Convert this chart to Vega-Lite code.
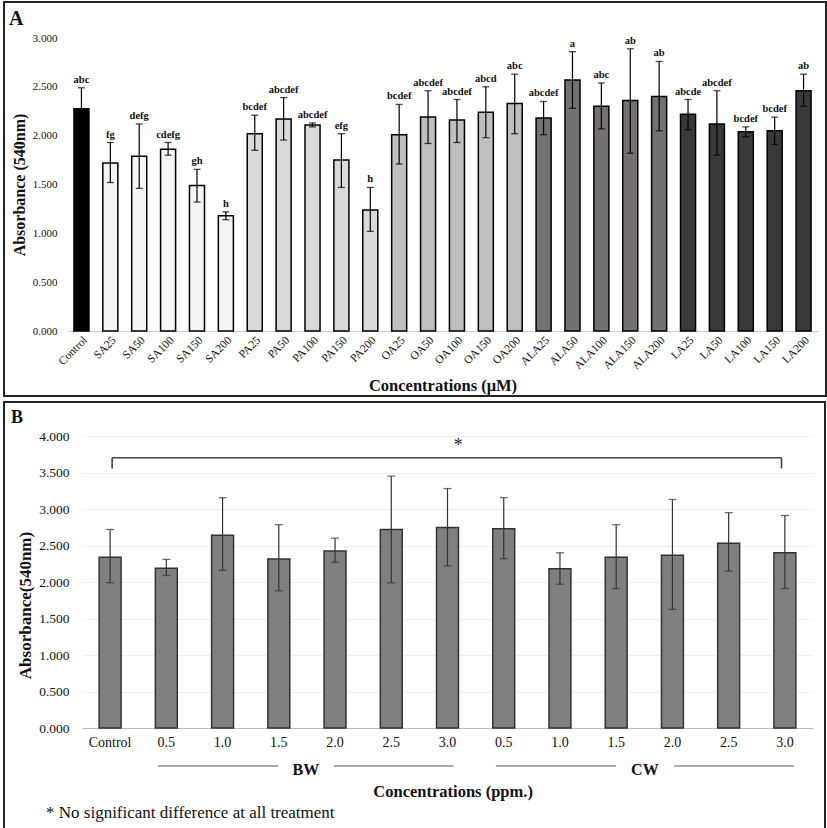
{
  "$schema": "https://vega.github.io/schema/vega-lite/v6.json",
  "padding": {"left": 3, "top": 1, "right": 2, "bottom": 1},
  "autosize": {"type": "pad"},
  "background": "white",
  "config": {
    "font": "Liberation Serif",
    "view": {"stroke": "#222222", "strokeWidth": 2},
    "concat": {"spacing": 4},
    "axis": {"labelFont": "Liberation Serif", "titleFont": "Liberation Serif", "labelColor": "#111111", "titleColor": "#111111"},
    "text": {"font": "Liberation Serif"},
    "title": {"font": "Liberation Serif", "color": "#111111"}
  },
  "datasets": {
    "panelA": [
      {"cat": "Control", "group": "Control", "mean": 2.275, "lo": 2.06, "hi": 2.49, "label": "abc"},
      {"cat": "SA25", "group": "SA", "mean": 1.72, "lo": 1.52, "hi": 1.93, "label": "fg"},
      {"cat": "SA50", "group": "SA", "mean": 1.79, "lo": 1.46, "hi": 2.12, "label": "defg"},
      {"cat": "SA100", "group": "SA", "mean": 1.86, "lo": 1.8, "hi": 1.93, "label": "cdefg"},
      {"cat": "SA150", "group": "SA", "mean": 1.49, "lo": 1.32, "hi": 1.655, "label": "gh"},
      {"cat": "SA200", "group": "SA", "mean": 1.18, "lo": 1.14, "hi": 1.22, "label": "h"},
      {"cat": "PA25", "group": "PA", "mean": 2.02, "lo": 1.85, "hi": 2.21, "label": "bcdef"},
      {"cat": "PA50", "group": "PA", "mean": 2.17, "lo": 1.955, "hi": 2.39, "label": "abcdef"},
      {"cat": "PA100", "group": "PA", "mean": 2.11, "lo": 2.09, "hi": 2.13, "label": "abcdef"},
      {"cat": "PA150", "group": "PA", "mean": 1.75, "lo": 1.47, "hi": 2.02, "label": "efg"},
      {"cat": "PA200", "group": "PA", "mean": 1.24, "lo": 1.02, "hi": 1.47, "label": "h"},
      {"cat": "OA25", "group": "OA", "mean": 2.01, "lo": 1.71, "hi": 2.32, "label": "bcdef"},
      {"cat": "OA50", "group": "OA", "mean": 2.19, "lo": 1.92, "hi": 2.46, "label": "abcdef"},
      {"cat": "OA100", "group": "OA", "mean": 2.16, "lo": 1.93, "hi": 2.37, "label": "abcdef"},
      {"cat": "OA150", "group": "OA", "mean": 2.24, "lo": 1.98, "hi": 2.5, "label": "abcd"},
      {"cat": "OA200", "group": "OA", "mean": 2.33, "lo": 2.02, "hi": 2.63, "label": "abc"},
      {"cat": "ALA25", "group": "ALA", "mean": 2.18, "lo": 2.01, "hi": 2.35, "label": "abcdef"},
      {"cat": "ALA50", "group": "ALA", "mean": 2.57, "lo": 2.28, "hi": 2.86, "label": "a"},
      {"cat": "ALA100", "group": "ALA", "mean": 2.3, "lo": 2.07, "hi": 2.54, "label": "abc"},
      {"cat": "ALA150", "group": "ALA", "mean": 2.36, "lo": 1.82, "hi": 2.89, "label": "ab"},
      {"cat": "ALA200", "group": "ALA", "mean": 2.4, "lo": 2.05, "hi": 2.76, "label": "ab"},
      {"cat": "LA25", "group": "LA", "mean": 2.22, "lo": 2.06, "hi": 2.37, "label": "abcde"},
      {"cat": "LA50", "group": "LA", "mean": 2.12, "lo": 1.8, "hi": 2.46, "label": "abcdef"},
      {"cat": "LA100", "group": "LA", "mean": 2.04, "lo": 1.99, "hi": 2.09, "label": "bcdef"},
      {"cat": "LA150", "group": "LA", "mean": 2.05, "lo": 1.91, "hi": 2.19, "label": "bcdef"},
      {"cat": "LA200", "group": "LA", "mean": 2.46, "lo": 2.3, "hi": 2.63, "label": "ab"}
    ],
    "panelB": [
      {"id": "Control", "mean": 2.34, "lo": 1.99, "hi": 2.72},
      {"id": "BW0.5", "mean": 2.19, "lo": 2.09, "hi": 2.31},
      {"id": "BW1.0", "mean": 2.64, "lo": 2.16, "hi": 3.155},
      {"id": "BW1.5", "mean": 2.315, "lo": 1.88, "hi": 2.785},
      {"id": "BW2.0", "mean": 2.425, "lo": 2.27, "hi": 2.6},
      {"id": "BW2.5", "mean": 2.72, "lo": 1.99, "hi": 3.45},
      {"id": "BW3.0", "mean": 2.745, "lo": 2.22, "hi": 3.28},
      {"id": "CW0.5", "mean": 2.73, "lo": 2.32, "hi": 3.155},
      {"id": "CW1.0", "mean": 2.18, "lo": 1.97, "hi": 2.4},
      {"id": "CW1.5", "mean": 2.34, "lo": 1.91, "hi": 2.785},
      {"id": "CW2.0", "mean": 2.365, "lo": 1.625, "hi": 3.13},
      {"id": "CW2.5", "mean": 2.53, "lo": 2.15, "hi": 2.95},
      {"id": "CW3.0", "mean": 2.4, "lo": 1.91, "hi": 2.91}
    ],
    "bracket": [
      {"x1": 0.036, "x2": 11.94, "y1": 3.703, "y2": 3.703},
      {"x1": 0.036, "x2": 0.036, "y1": 3.703, "y2": 3.556},
      {"x1": 11.94, "x2": 11.94, "y1": 3.703, "y2": 3.556}
    ],
    "groupLines": [
      {"x1": 0.853, "x2": 2.99, "y1": -0.52, "y2": -0.52},
      {"x1": 3.98, "x2": 6.11, "y1": -0.52, "y2": -0.52},
      {"x1": 6.86, "x2": 9.0, "y1": -0.52, "y2": -0.52},
      {"x1": 10.03, "x2": 12.16, "y1": -0.52, "y2": -0.52}
    ],
    "groupText": [
      {"x": 3.48, "y": -0.58, "t": "BW"},
      {"x": 9.51, "y": -0.58, "t": "CW"}
    ],
    "starText": [{"x": 6.19, "y": 3.86, "t": "*"}],
    "xTitleB": [{"x": 6.1, "y": -0.87, "t": "Concentrations (ppm.)"}],
    "footnote": [{"x": -1.14, "y": -1.16, "t": "* No significant difference at all treatment"}]
  },
  "vconcat": [
    {
      "width": 822,
      "height": 394,
      "title": {"text": "A", "anchor": "start", "offset": -27, "dx": 5, "fontSize": 20, "fontWeight": "bold"},
      "data": {"name": "panelA"},
      "encoding": {
        "x": {
          "field": "cat", "type": "nominal", "sort": null,
          "scale": {"range": [63, 814], "paddingInner": 0.48, "paddingOuter": 0.24},
          "axis": {
            "offset": -65, "ticks": false, "tickSize": 0, "labelAngle": -45, "labelAlign": "right", "labelBaseline": "top",
            "labelPadding": 3, "labelFontSize": 11.5, "domainColor": "#cccccc", "domainWidth": 1,
            "title": "Concentrations (μM)", "titleFontSize": 16.5, "titleFontWeight": "bold", "titlePadding": 6
          }
        }
      },
      "layer": [
        {
          "mark": {"type": "bar", "stroke": "#000000", "strokeWidth": 1.5},
          "encoding": {
            "y": {
              "field": "mean", "type": "quantitative",
              "scale": {"domain": [0, 3], "range": [329, 36], "nice": false, "zero": true},
              "axis": {
                "offset": -56, "domain": false, "ticks": false, "tickSize": 0, "grid": false, "labelPadding": 3,
                "values": [0, 0.5, 1, 1.5, 2, 2.5, 3], "format": ".3f", "labelFontSize": 11,
                "title": "Absorbance (540nm)", "titleFontSize": 16, "titleFontWeight": "bold", "titlePadding": 5
              }
            },
            "color": {
              "field": "group", "type": "nominal",
              "scale": {"domain": ["Control", "SA", "PA", "OA", "ALA", "LA"], "range": ["#000000", "#f5f5f5", "#d9d9d9", "#bfbfbf", "#767171", "#3a3838"]},
              "legend": null
            }
          }
        },
        {
          "mark": {"type": "rule", "color": "#000000", "strokeWidth": 1.2},
          "encoding": {"y": {"field": "lo", "type": "quantitative", "title": "Absorbance (540nm)"}, "y2": {"field": "hi"}}
        },
        {
          "mark": {"type": "tick", "color": "#000000", "size": 7, "thickness": 1.3},
          "encoding": {"y": {"field": "lo", "type": "quantitative", "title": "Absorbance (540nm)"}}
        },
        {
          "mark": {"type": "tick", "color": "#000000", "size": 7, "thickness": 1.3},
          "encoding": {"y": {"field": "hi", "type": "quantitative", "title": "Absorbance (540nm)"}}
        },
        {
          "mark": {"type": "text", "baseline": "bottom", "dy": -3, "fontSize": 10.5, "fontWeight": "bold", "color": "#111111"},
          "encoding": {"y": {"field": "hi", "type": "quantitative", "title": "Absorbance (540nm)"}, "text": {"field": "label"}}
        }
      ]
    },
    {
      "width": 821,
      "height": 427,
      "title": {"text": "B", "anchor": "start", "offset": -25, "dx": 7, "fontSize": 18, "fontWeight": "bold"},
      "resolve": {"scale": {"x": "independent"}},
      "layer": [
        {
          "data": {"name": "panelB"},
          "encoding": {
            "x": {
              "field": "id", "type": "nominal", "sort": null,
              "scale": {"range": [78, 809], "paddingInner": 0.61, "paddingOuter": 0.305},
              "axis": {
                "offset": -101, "ticks": false, "tickSize": 0, "labelAngle": 0, "labelAlign": "center", "labelBaseline": "top",
                "labelPadding": 7, "labelFontSize": 14, "domainColor": "#bbbbbb", "domainWidth": 1,
                "labelExpr": "datum.label == 'Control' ? 'Control' : substring(datum.label, 2)",
                "title": null
              }
            }
          },
          "layer": [
            {
              "mark": {"type": "bar", "fill": "#808080", "stroke": "#333333", "strokeWidth": 1.5},
              "encoding": {
                "y": {
                  "field": "mean", "type": "quantitative",
                  "scale": {"domain": [0, 4], "range": [326, 34], "nice": false},
                  "axis": {
                    "offset": -68, "domain": false, "ticks": false, "tickSize": 0, "grid": true, "gridColor": "#efefef",
                    "labelPadding": 3, "values": [0, 0.5, 1, 1.5, 2, 2.5, 3, 3.5, 4], "format": ".3f", "labelFontSize": 13.5,
                    "title": "Absorbance(540nm)", "titleFontSize": 17, "titleFontWeight": "bold", "titlePadding": 4, "titleY": 203
                  }
                }
              }
            },
            {
              "mark": {"type": "rule", "color": "#333333", "strokeWidth": 1.2},
              "encoding": {"y": {"field": "lo", "type": "quantitative", "title": "Absorbance(540nm)"}, "y2": {"field": "hi"}}
            },
            {
              "mark": {"type": "tick", "color": "#333333", "size": 8, "thickness": 1.3},
              "encoding": {"y": {"field": "lo", "type": "quantitative", "title": "Absorbance(540nm)"}}
            },
            {
              "mark": {"type": "tick", "color": "#333333", "size": 8, "thickness": 1.3},
              "encoding": {"y": {"field": "hi", "type": "quantitative", "title": "Absorbance(540nm)"}}
            }
          ]
        },
        {
          "data": {"name": "bracket"},
          "mark": {"type": "rule", "color": "#444444", "strokeWidth": 1.6},
          "encoding": {
            "x": {"field": "x1", "type": "quantitative", "scale": {"domain": [-0.5, 12.5], "range": [78, 809], "nice": false, "zero": false}, "axis": null},
            "x2": {"field": "x2"},
            "y": {"field": "y1", "type": "quantitative", "title": "Absorbance(540nm)", "scale": {"domain": [0, 4], "range": [326, 34], "nice": false}},
            "y2": {"field": "y2"}
          }
        },
        {
          "data": {"name": "groupLines"},
          "mark": {"type": "rule", "color": "#555555", "strokeWidth": 1},
          "encoding": {
            "x": {"field": "x1", "type": "quantitative", "scale": {"domain": [-0.5, 12.5], "range": [78, 809], "nice": false, "zero": false}, "axis": null},
            "x2": {"field": "x2"},
            "y": {"field": "y1", "type": "quantitative", "title": "Absorbance(540nm)", "scale": {"domain": [0, 4], "range": [326, 34], "nice": false}},
            "y2": {"field": "y2"}
          }
        },
        {
          "data": {"name": "groupText"},
          "mark": {"type": "text", "fontSize": 16, "fontWeight": "bold", "baseline": "middle", "align": "center", "color": "#111111"},
          "encoding": {
            "x": {"field": "x", "type": "quantitative", "scale": {"domain": [-0.5, 12.5], "range": [78, 809], "nice": false, "zero": false}, "axis": null},
            "y": {"field": "y", "type": "quantitative", "title": "Absorbance(540nm)", "scale": {"domain": [0, 4], "range": [326, 34], "nice": false}},
            "text": {"field": "t"}
          }
        },
        {
          "data": {"name": "starText"},
          "mark": {"type": "text", "fontSize": 18, "baseline": "middle", "align": "center", "color": "#222222"},
          "encoding": {
            "x": {"field": "x", "type": "quantitative", "scale": {"domain": [-0.5, 12.5], "range": [78, 809], "nice": false, "zero": false}, "axis": null},
            "y": {"field": "y", "type": "quantitative", "title": "Absorbance(540nm)", "scale": {"domain": [0, 4], "range": [326, 34], "nice": false}},
            "text": {"field": "t"}
          }
        },
        {
          "data": {"name": "xTitleB"},
          "mark": {"type": "text", "fontSize": 16.5, "fontWeight": "bold", "baseline": "middle", "align": "center", "color": "#111111"},
          "encoding": {
            "x": {"field": "x", "type": "quantitative", "scale": {"domain": [-0.5, 12.5], "range": [78, 809], "nice": false, "zero": false}, "axis": null},
            "y": {"field": "y", "type": "quantitative", "title": "Absorbance(540nm)", "scale": {"domain": [0, 4], "range": [326, 34], "nice": false}},
            "text": {"field": "t"}
          }
        },
        {
          "data": {"name": "footnote"},
          "mark": {"type": "text", "fontSize": 17, "baseline": "middle", "align": "left", "color": "#111111"},
          "encoding": {
            "x": {"field": "x", "type": "quantitative", "scale": {"domain": [-0.5, 12.5], "range": [78, 809], "nice": false, "zero": false}, "axis": null},
            "y": {"field": "y", "type": "quantitative", "title": "Absorbance(540nm)", "scale": {"domain": [0, 4], "range": [326, 34], "nice": false}},
            "text": {"field": "t"}
          }
        }
      ]
    }
  ]
}
